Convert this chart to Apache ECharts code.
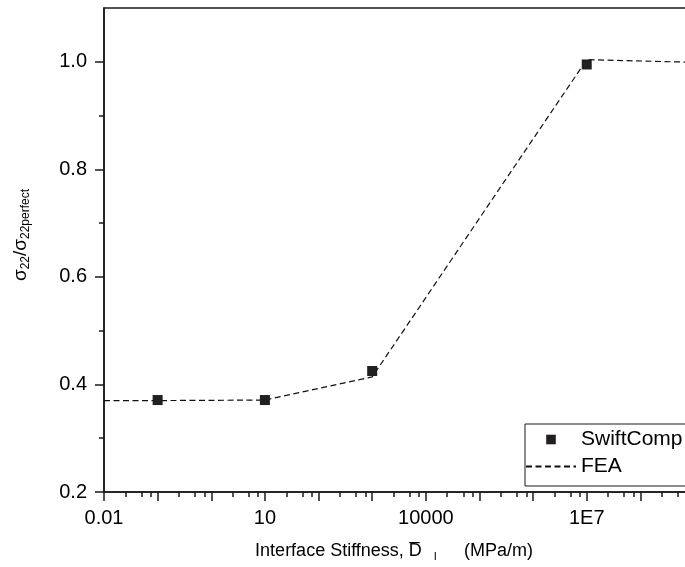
<!DOCTYPE html>
<html>
<head>
<meta charset="utf-8">
<script src="https://cdn.jsdelivr.net/npm/echarts@6/dist/echarts.min.js"></script>
<style>
  html, body { margin: 0; padding: 0; background: #fff; }
  #chart { width: 685px; height: 567px; }
</style>
</head>
<body>
<div id="chart"></div>
<script>
// ---- data ----
const swiftCompX = [0.1, 10, 1000, 1e7];
const swiftCompY = [0.371, 0.371, 0.425, 0.995];
const feaX = [0.01, 0.1, 10, 1000, 1e7, 1e9];
const feaY = [0.370, 0.370, 0.371, 0.414, 1.004, 0.999];
const xTickExponents = [-2, 1, 4, 7];
const xTickLabels = ['0.01', '10', '10000', '1E7'];
const xMinorMultipliers = [2.5, 5, 7.5];
const yMajorTicks = [0.2, 0.4, 0.6, 0.8, 1.0];
const yMinorTicks = [0.3, 0.5, 0.7, 0.9];

const X_MIN_EXP = -2, X_MAX_EXP = 9;
const minorX = [];
for (let e = X_MIN_EXP; e < X_MAX_EXP; e++) {
  xMinorMultipliers.forEach(m => minorX.push(e + Math.log10(m)));
}

const FONT = '"Liberation Sans", Arial, "DejaVu Sans", sans-serif';
const INK = '#1a1a1a';

const chart = echarts.init(document.getElementById('chart'), null, { renderer: 'canvas' });
chart.setOption({
  animation: false,
  backgroundColor: '#fff',
  textStyle: { fontFamily: FONT, color: '#000' },
  grid: {
    left: 104, top: 8, width: 590, bottom: 75,
    outerBoundsMode: 'none',
    containLabel: false,
    show: true, borderColor: INK, borderWidth: 1.5, backgroundColor: 'transparent'
  },
  legend: {
    orient: 'vertical',
    left: 525, top: 424,
    padding: [5, 8, 9, 0],
    itemWidth: 50, itemHeight: 12, itemGap: 6,
    borderColor: INK, borderWidth: 1,
    backgroundColor: '#fff',
    textStyle: { fontFamily: FONT, fontSize: 21, color: '#000', lineHeight: 20 },
    data: [
      { name: 'SwiftComp', lineStyle: { opacity: 0 } },
      { name: 'FEA', itemStyle: { opacity: 0 } }
    ]
  },
  xAxis: [
    {
      type: 'log', logBase: 10,
      min: Math.pow(10, X_MIN_EXP), max: Math.pow(10, X_MAX_EXP),
      position: 'bottom',
      axisLine: { show: true, onZero: false, lineStyle: { color: INK, width: 1.5 } },
      axisTick: { show: false },
      axisLabel: { show: false },
      splitLine: { show: false },
      minorTick: { show: false },
      name: '{t|Interface Stiffness, }{t|D\u0305}{s|I}{t|(MPa/m)}',
      nameLocation: 'middle',
      nameGap: 49,
      nameTextStyle: {
        padding: [0, 10, 0, 0],
        rich: {
          t: { fontFamily: FONT, fontSize: 18, color: '#000' },
          s: { fontFamily: FONT, fontSize: 11, color: '#000', padding: [10, 27, 0, 12] }
        }
      }
    },
    {
      type: 'value', min: X_MIN_EXP, max: X_MAX_EXP, interval: 1,
      position: 'bottom',
      axisLine: { show: false, onZero: false },
      axisTick: { show: true, inside: false, length: 9, lineStyle: { color: INK, width: 1.5 } },
      axisLabel: {
        show: true, margin: 16, fontSize: 20, fontFamily: FONT, color: '#000',
        formatter: v => {
          const i = xTickExponents.indexOf(Math.round(v));
          return (i >= 0 && Math.abs(v - Math.round(v)) < 1e-9) ? xTickLabels[i] : '';
        }
      },
      splitLine: { show: false }
    },
    {
      type: 'value', min: X_MIN_EXP, max: X_MAX_EXP,
      position: 'bottom',
      axisLine: { show: false, onZero: false },
      axisTick: { show: true, inside: false, length: 5, customValues: minorX, lineStyle: { color: INK, width: 1.5 } },
      axisLabel: { show: false },
      splitLine: { show: false }
    }
  ],
  yAxis: [
    {
      type: 'value', min: 0.2, max: 1.1,
      position: 'left',
      axisLine: { show: true, onZero: false, lineStyle: { color: INK, width: 1.5 } },
      axisTick: { show: true, inside: false, length: 9, customValues: yMajorTicks, lineStyle: { color: INK, width: 1.5 } },
      axisLabel: {
        show: true, margin: 17, fontSize: 20, fontFamily: FONT, color: '#000',
        customValues: yMajorTicks,
        formatter: v => v.toFixed(1)
      },
      splitLine: { show: false },
      name: '{t|σ}{s|22}{t|/σ}{s|22perfect}',
      nameLocation: 'middle',
      nameRotate: 90,
      nameGap: 72,
      nameTextStyle: {
        padding: [0, 0, 0, 30],
        rich: {
          t: { fontFamily: FONT, fontSize: 19, color: '#000' },
          s: { fontFamily: FONT, fontSize: 12, color: '#000', padding: [11, 0, 0, 0] }
        }
      }
    },
    {
      type: 'value', min: 0.2, max: 1.1,
      position: 'left',
      axisLine: { show: false, onZero: false },
      axisTick: { show: true, inside: false, length: 5, customValues: yMinorTicks, lineStyle: { color: INK, width: 1.5 } },
      axisLabel: { show: false },
      splitLine: { show: false }
    }
  ],
  series: [
    {
      name: 'FEA',
      type: 'line',
      xAxisIndex: 0, yAxisIndex: 0,
      data: feaX.map((x, i) => [x, feaY[i]]),
      symbol: 'none',
      lineStyle: { color: '#111', width: 1.2, type: [6, 3.5] },
      itemStyle: { color: '#111' },
      z: 2
    },
    {
      name: 'SwiftComp',
      type: 'line',
      xAxisIndex: 0, yAxisIndex: 0,
      data: swiftCompX.map((x, i) => [x, swiftCompY[i]]),
      symbol: 'rect',
      symbolSize: 10,
      showSymbol: true,
      lineStyle: { opacity: 0, width: 0 },
      itemStyle: { color: '#231f20' },
      z: 3
    }
  ]
});
</script>
</body>
</html>
